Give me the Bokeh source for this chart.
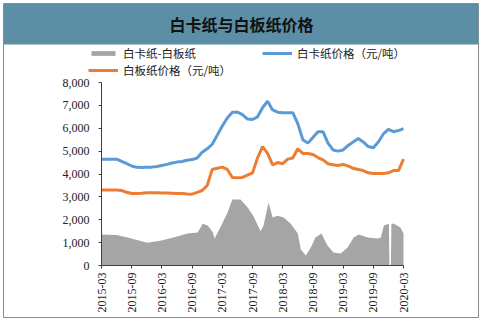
from math import pi
from bokeh.plotting import figure
from bokeh.models import (Range1d, FixedTicker, Label, BoxAnnotation, Legend, LegendItem,
                          NumeralTickFormatter)
from bokeh.embed import file_html
from bokeh.resources import INLINE

# ---- data (months since 2015-03) ----
tick_months = [0, 6, 12, 18, 24, 30, 36, 42, 48, 54, 60]
tick_labels = ["2015-03", "2015-09", "2016-03", "2016-09", "2017-03", "2017-09",
               "2018-03", "2018-09", "2019-03", "2019-09", "2020-03"]

months = list(range(61))
white_card = [4650, 4650, 4650, 4650, 4550, 4450, 4350, 4290, 4280, 4290,
              4300, 4330, 4370, 4420, 4480, 4520, 4550, 4600, 4630, 4700,
              4950, 5100, 5300, 5700, 6100, 6450, 6700, 6700, 6600, 6400,
              6380, 6500, 6900, 7180, 6800, 6700, 6680, 6680, 6680, 6200,
              5500, 5350, 5600, 5850, 5850, 5350, 5050, 5000, 5050, 5250,
              5400, 5550, 5400, 5200, 5150, 5400, 5750, 5950, 5850, 5900,
              5980]
white_board = [3300, 3300, 3300, 3300, 3280, 3200, 3150, 3150, 3160, 3180,
               3180, 3180, 3170, 3170, 3160, 3150, 3150, 3130, 3120, 3200,
               3280, 3500, 4200, 4250, 4300, 4200, 3850, 3840, 3850, 3950,
               4050, 4700, 5200, 4900, 4400, 4500, 4450, 4650, 4700, 5100,
               4900, 4900, 4850, 4720, 4620, 4450, 4400, 4370, 4420, 4350,
               4250, 4200, 4150, 4050, 4020, 4020, 4020, 4050, 4150, 4150,
               4650]

spread_months = [0, 3, 5.2, 9.1, 11.7, 14.3, 17.1, 19.1, 20.1, 21.1, 22.1, 22.5,
                 23.1, 23.7, 25.0, 26.0, 27.6, 29.0, 30.2, 31.6, 32.2, 33.2, 34.0,
                 35.0, 36.2, 37.6, 39.0, 39.6, 40.6, 41.6, 42.5, 43.7, 44.9, 46.1,
                 47.5, 48.9, 50.1, 51.1, 52.9, 54.9, 55.5, 56.1, 57.1, 57.2, 57.5,
                 57.6, 58.1, 59.4, 60]
spread = [1350, 1330, 1220, 1000, 1080, 1220, 1400, 1440, 1830, 1750, 1450, 1180,
          1450, 1700, 2300, 2880, 2880, 2550, 2150, 1500, 1750, 2750, 2100,
          2180, 2100, 1830, 1400, 700, 440, 790, 1220, 1400, 870, 570,
          520, 790, 1220, 1350, 1220, 1180, 1220, 1750, 1830, 0, 0,
          1830, 1830, 1660, 1400]

title_text = "白卡纸与白板纸价格"
legend_labels = ["白卡纸-白板纸", "白卡纸价格（元/吨）", "白板纸价格（元/吨）"]

# ---- layout geometry (page pixels) ----
W, H = 484, 322
BL, BR, BT, BB = 3, 478, 3, 317        # outer box = plot frame
AL, AR, AT, AB = 101, 403, 82, 265     # where the axes sit
X0, X1, Y0, Y1 = 0, 60, 0, 8000
kx = (AR - AL) / (X1 - X0)
ky = (AB - AT) / (Y1 - Y0)
x_range = Range1d(X0 - (AL - BL) / kx, X1 + (BR - AR) / kx)
y_range = Range1d(Y0 - (BB - AB) / ky, Y1 + (AT - BT) / ky)

p = figure(width=W, height=H, output_backend="svg", toolbar_location=None,
           x_range=x_range, y_range=y_range,
           min_border_left=BL, min_border_right=W - BR,
           min_border_top=BT, min_border_bottom=H - BB,
           background_fill_color="white", border_fill_color="white")
p.outline_line_color = "#8C8C8C"
p.outline_line_width = 1
p.xgrid.visible = False
p.ygrid.visible = False

# title bar
p.add_layout(BoxAnnotation(bottom=BB - 44, bottom_units="screen",
                           fill_color="#5C8FA6", fill_alpha=1, line_color=None,
                           level="underlay"))
p.add_layout(Label(x=241 - BL, y=BB - 23, x_units="screen", y_units="screen",
                   text=title_text, text_align="center", text_baseline="middle",
                   text_font="Noto Sans CJK SC", text_font_style="bold",
                   text_font_size="16px", text_color="#111111"))

r_area = p.varea(x=spread_months, y1=0, y2=spread, fill_color="#A5A5A5")
r_blue = p.line(months, white_card, line_color="#5B9BD5", line_width=3)
r_orange = p.line(months, white_board, line_color="#ED7D31", line_width=3)

serif = "Liberation Serif"
for ax in (p.xaxis[0], p.yaxis[0]):
    ax.fixed_location = 0
    ax.axis_line_color = "#404040"
    ax.major_tick_line_color = "#404040"
    ax.minor_tick_line_color = None
    ax.major_tick_in = 0
    ax.major_tick_out = 3
    ax.major_label_text_font = serif
    ax.major_label_text_font_size = "12px"
    ax.major_label_text_color = "#222222"

p.yaxis[0].bounds = (Y0, Y1)
p.yaxis[0].ticker = FixedTicker(ticks=list(range(0, 8001, 1000)))
p.yaxis[0].formatter = NumeralTickFormatter(format="0,0")
p.yaxis[0].major_label_standoff = 9

p.xaxis[0].bounds = (X0, X1)
p.xaxis[0].ticker = FixedTicker(ticks=tick_months)
p.xaxis[0].major_label_overrides = {m: t for m, t in zip(tick_months, tick_labels)}
p.xaxis[0].major_label_orientation = pi / 2
p.xaxis[0].major_label_standoff = 4

legend = Legend(items=[LegendItem(label=legend_labels[0], renderers=[r_area]),
                       LegendItem(label=legend_labels[1], renderers=[r_blue]),
                       LegendItem(label=legend_labels[2], renderers=[r_orange])],
                location=(88 - BL, BB - 78), orientation="horizontal", ncols=2,
                padding=0, margin=0, spacing=1, glyph_width=30, glyph_height=6,
                label_height=12, label_width=138, label_standoff=5,
                label_text_font="Noto Sans CJK SC", label_text_font_size="11.5px",
                label_text_color="#222222", background_fill_alpha=0,
                border_line_color=None)
p.add_layout(legend, "center")

open("out.html", "w").write(file_html(p, INLINE))
